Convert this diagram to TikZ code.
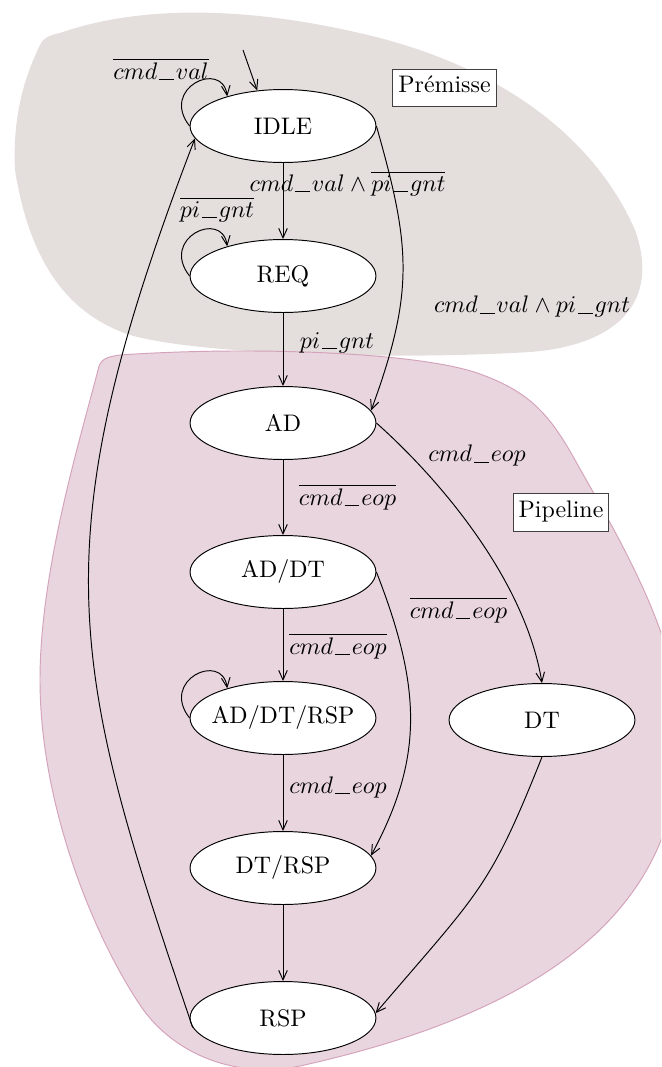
\documentclass[tikz,border=0pt]{standalone}
\usetikzlibrary{shapes.geometric,arrows.meta}
\definecolor{premissefill}{RGB}{228,222,220}
\definecolor{pipefill}{RGB}{233,213,222}
\definecolor{pipeedge}{RGB}{212,162,186}
% underscore used inside signal names
\newcommand\us{\mbox{\kern0.08em\rule[-0.2pt]{0.62em}{0.4pt}\kern0.08em}}
\begin{document}
\begin{tikzpicture}[x=0.418pt,y=-0.418pt,line width=0.4pt,
  state/.style={ellipse,draw,fill=white,minimum width=77.7pt,minimum height=30.5pt,inner xsep=-4pt,inner ysep=0pt},
  edge/.style={-{Straight Barb[length=4pt,width=3.6pt]}},
  lbl/.style={inner sep=0pt},
  tag/.style={draw=black!75,fill=white,inner xsep=2.3pt,inner ysep=2.8pt,text height=7pt,text depth=3pt}]
\useasboundingbox (0,0) rectangle (661,1067);

% background regions
\begin{scope}
\clip (0,0) rectangle (661,1067);
\fill[premissefill] (40,45) .. controls (44,37) and (50,35) .. (60,33)
  .. controls (140,5) and (250,5) .. (380,38)
  .. controls (520,75) and (600,150) .. (635,230)
  .. controls (660,300) and (620,345) .. (530,352)
  .. controls (400,360) and (200,355) .. (130,335)
  .. controls (70,315) and (30,265) .. (15,170)
  .. controls (12,110) and (28,70) .. (40,45) -- cycle;
\filldraw[fill=pipefill,draw=pipeedge] (98,370) .. controls (100,360) and (105,357) .. (120,355)
  .. controls (250,346) and (420,352) .. (480,374)
  .. controls (530,392) and (550,415) .. (575,460)
  .. controls (620,540) and (680,640) .. (680,730)
  .. controls (683,890) and (575,1005) .. (300,1066)
  .. controls (230,1080) and (170,1050) .. (140,1005)
  .. controls (90,930) and (40,800) .. (40,680)
  .. controls (40,570) and (80,440) .. (98,370) -- cycle;
\end{scope}

% states
\node[state] (IDLE) at (283,126) {IDLE};
\node[state] (REQ) at (283,276) {REQ};
\node[state] (AD) at (283,423) {AD};
\node[state] (ADDT) at (283,572) {AD/DT};
\node[state] (ADDTRSP) at (283,718) {AD/DT/RSP};
\node[state] (DT) at (542,720) {DT};
\node[state] (DTRSP) at (283,868) {DT/RSP};
\node[state] (RSP) at (283,1018) {RSP};

% region tags
\node[tag] (prem) at (444.5,88) {Prémisse};
\node[tag] (pipe) at (561,512.5) {Pipeline};

% transitions
\coordinate (init) at (243,50);
\draw[edge] (init) -- (IDLE.126);
\draw[edge] (IDLE.west) .. controls +(-30,-38) and +(-5,-37) .. (IDLE.152);
\draw[edge] (REQ.west) .. controls +(-30,-38) and +(-5,-37) .. (REQ.152);
\draw[edge] (ADDTRSP.west) .. controls +(-30,-38) and +(-5,-37) .. (ADDTRSP.152);
\draw[edge] (IDLE) -- (REQ);
\draw[edge] (REQ) -- (AD);
\draw[edge] (AD) -- (ADDT);
\draw[edge] (ADDT) -- (ADDTRSP);
\draw[edge] (ADDTRSP) -- (DTRSP);
\draw[edge] (DTRSP) -- (RSP);
\draw[edge] (IDLE.east) .. controls +(34,120) and +(44,-120) .. (AD.8);
\draw[edge] (AD.east) .. controls +(64,57) and +(-17,-103) .. (DT.north);
\draw[edge] (ADDT.east) .. controls +(46,118) and +(52,-97) .. (DTRSP.8);
\draw[edge] (DT.south) .. controls +(-53,133) and +(104,-122) .. (RSP.3);
\draw[edge] (RSP.186) .. controls +(-123,-361) and +(-157,409) .. (IDLE.188);

% transition labels
\node[lbl] (lIdleLoop) at (161,69) {$\overline{cmd\us val}$};
\node[lbl] (lIdleReq) at (347.5,183.5) {$cmd\us val \wedge \overline{pi\us gnt}$};
\node[lbl] (lReqLoop) at (217,210) {$\overline{pi\us gnt}$};
\node[lbl] (lIdleAd) at (532,307) {$cmd\us val \wedge pi\us gnt$};
\node[lbl] (lReqAd) at (337,343) {$pi\us gnt$};
\node[lbl] (lAdDt) at (477,456) {$cmd\us eop$};
\node[lbl] (lAdAddt) at (347.5,497.5) {$\overline{cmd\us eop}$};
\node[lbl] (lAddtDtrsp) at (458.5,610) {$\overline{cmd\us eop}$};
\node[lbl] (lAddtAddtrsp) at (338,646.5) {$\overline{cmd\us eop}$};
\node[lbl] (lAddtrspDtrsp) at (338,787.5) {$cmd\us eop$};
\end{tikzpicture}
\end{document}
